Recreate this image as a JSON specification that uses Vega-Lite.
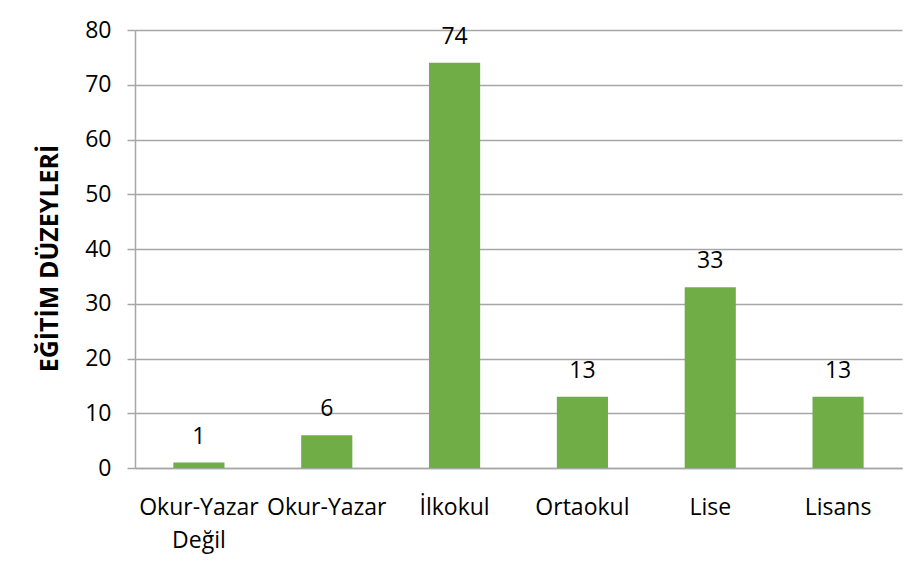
{
  "$schema": "https://vega.github.io/schema/vega-lite/v6.json",
  "autosize": "none",
  "width": 767,
  "height": 438,
  "padding": {"left": 135, "top": 30, "right": 19, "bottom": 106},
  "background": "white",
  "config": {
    "view": {"stroke": null},
    "font": "Open Sans"
  },
  "data": {
    "values": [
      {"duzey": "Okur-Yazar Değil", "sayi": 1},
      {"duzey": "Okur-Yazar", "sayi": 6},
      {"duzey": "İlkokul", "sayi": 74},
      {"duzey": "Ortaokul", "sayi": 13},
      {"duzey": "Lise", "sayi": 33},
      {"duzey": "Lisans", "sayi": 13}
    ]
  },
  "encoding": {
    "x": {
      "field": "duzey",
      "type": "nominal",
      "sort": null,
      "scale": {"paddingInner": 0.6, "paddingOuter": 0.3},
      "axis": {
        "title": null,
        "labelAngle": 0,
        "labelFont": "Open Sans",
        "labelFontSize": 23,
        "labelColor": "#000000",
        "labelLineHeight": 33,
        "labelPadding": 28,
        "ticks": false,
        "domainColor": "#a6a6a6",
        "domainWidth": 1.5,
        "labelExpr": "datum.label == 'Okur-Yazar Değil' ? ['Okur-Yazar', 'Değil'] : datum.label"
      }
    },
    "y": {
      "field": "sayi",
      "type": "quantitative",
      "scale": {"domain": [0, 80], "nice": false},
      "axis": {
        "title": "EĞİTİM DÜZEYLERİ",
        "titleFont": "Open Sans",
        "titleFontSize": 25,
        "titleFontWeight": "bold",
        "titleColor": "#000000",
        "titlePadding": 22,
        "titleY": 228,
        "values": [0, 10, 20, 30, 40, 50, 60, 70, 80],
        "labelFont": "Open Sans",
        "labelFontSize": 23,
        "labelColor": "#000000",
        "labelPadding": 16,
        "tickSize": 8,
        "tickColor": "#a6a6a6",
        "tickWidth": 1.5,
        "domainColor": "#a6a6a6",
        "domainWidth": 1.5,
        "gridColor": "#a6a6a6",
        "gridWidth": 1.5
      }
    }
  },
  "layer": [
    {"mark": {"type": "bar", "color": "#70ad47"}},
    {
      "mark": {"type": "text", "baseline": "bottom", "dy": -14, "fontSize": 23, "font": "Open Sans", "color": "#000000"},
      "encoding": {"text": {"field": "sayi", "type": "quantitative"}}
    }
  ]
}
